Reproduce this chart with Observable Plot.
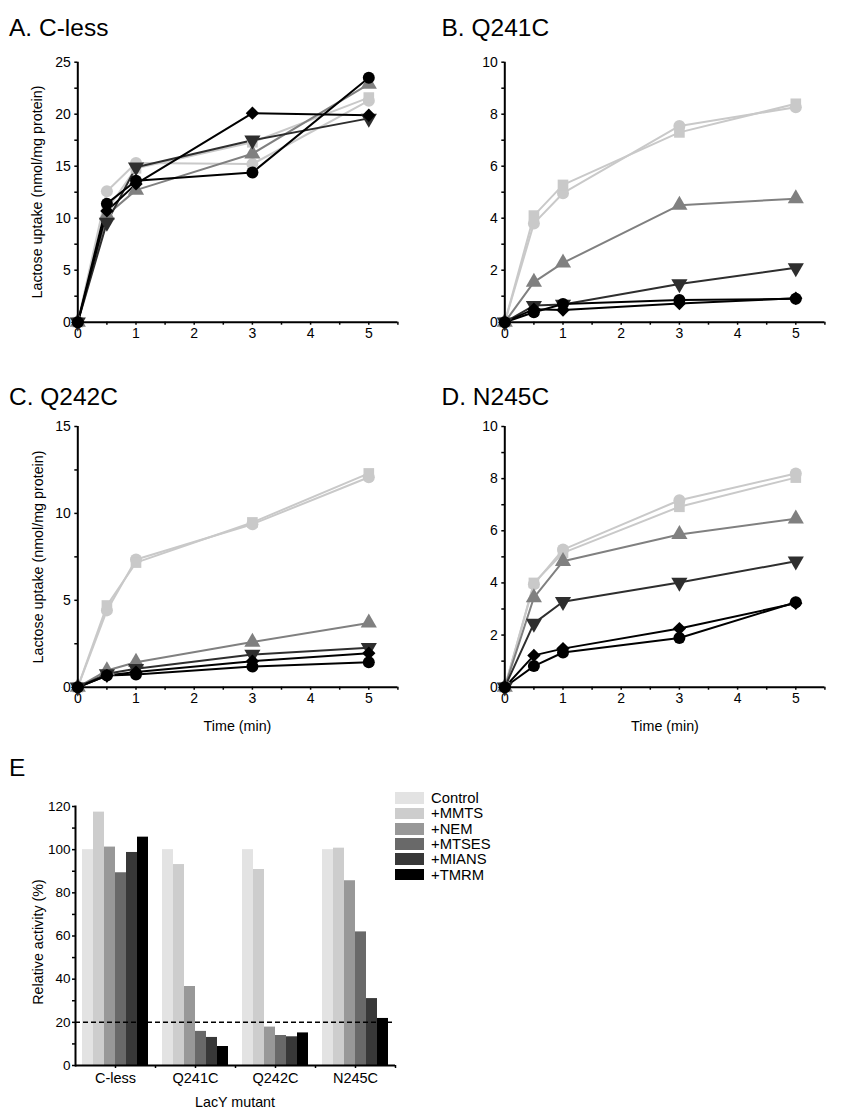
<!DOCTYPE html>
<html><head><meta charset="utf-8">
<script src="https://cdn.jsdelivr.net/npm/d3@7"></script>
<script src="https://cdn.jsdelivr.net/npm/@observablehq/plot@0.6"></script>
<style>
body{margin:0;background:#fff;}
#root{position:relative;width:854px;height:1116px;font-family:"Liberation Sans",Arial,sans-serif;color:#000;overflow:hidden;background:#fff;}
.abs{position:absolute;}
.title{font-size:24.5px;line-height:24px;white-space:nowrap;}
.ylab{transform:translate(-50%,-50%) rotate(-90deg);white-space:nowrap;font-size:14.3px;line-height:14px;}
.xlab{transform:translate(-50%,-50%);white-space:nowrap;font-size:14.3px;line-height:14px;}
.legrow{position:absolute;display:flex;align-items:center;height:15.3px;font-size:14.8px;}
.sw{width:29px;height:11.7px;margin-right:7px;}
svg{position:absolute;}
</style></head><body><div id="root"></div>
<script>
// ---------- data ----------
const times = [0, 0.5, 1, 3, 5];
const treatments = ["Control", "+MMTS", "+NEM", "+MTSES", "+MIANS", "+TMRM"];
const mutants = ["C-less", "Q241C", "Q242C", "N245C"];

// Panel A: C-less (nmol/mg protein)
const A_control = [0, 12.6, 15.3, 15.2, 21.3];
const A_mmts    = [0, 10.8, 14.8, 17.3, 21.6];
const A_nem     = [0, 10.3, 12.7, 16.2, 22.9];
const A_mtses   = [0, 9.6, 14.9, 17.5, 19.6];
const A_mians   = [0, 11.4, 13.6, 14.4, 23.5];
const A_tmrm    = [0, 10.7, 13.3, 20.1, 19.9];
// Panel B: Q241C
const B_control = [0, 3.8, 4.96, 7.55, 8.27];
const B_mmts    = [0, 4.1, 5.28, 7.3, 8.4];
const B_nem     = [0, 1.54, 2.28, 4.5, 4.75];
const B_mtses   = [0, 0.64, 0.68, 1.47, 2.09];
const B_mians   = [0, 0.38, 0.7, 0.85, 0.9];
const B_tmrm    = [0, 0.5, 0.47, 0.72, 0.92];
// Panel C: Q242C
const C_control = [0, 4.42, 7.35, 9.38, 12.08];
const C_mmts    = [0, 4.7, 7.17, 9.48, 12.3];
const C_nem     = [0, 0.96, 1.44, 2.6, 3.7];
const C_mtses   = [0, 0.77, 1.06, 1.88, 2.27];
const C_mians   = [0, 0.67, 0.73, 1.19, 1.44];
const C_tmrm    = [0, 0.67, 0.87, 1.5, 1.96];
// Panel D: N245C
const D_control = [0, 3.95, 5.28, 7.17, 8.2];
const D_mmts    = [0, 4.0, 5.15, 6.92, 8.04];
const D_nem     = [0, 3.44, 4.83, 5.86, 6.46];
const D_mtses   = [0, 2.45, 3.28, 4.02, 4.83];
const D_mians   = [0, 0.81, 1.33, 1.89, 3.26];
const D_tmrm    = [0, 1.22, 1.48, 2.25, 3.22];

// Panel E: relative activity (%) per mutant
const E_control = [100, 100, 100, 100];
const E_mmts    = [117.4, 93.1, 90.8, 100.7];
const E_nem     = [101.2, 36.6, 17.8, 85.6];
const E_mtses   = [89.3, 15.8, 13.9, 61.9];
const E_mians   = [98.7, 13.0, 13.3, 31.0];
const E_tmrm    = [105.8, 8.8, 15.1, 21.8];
const threshold = 20;

// tick labels
const xTicks = [0, 1, 2, 3, 4, 5];
const xMinor = [0.5, 1.5, 2.5, 3.5, 4.5, 5.5];
const yTicksA = [0, 5, 10, 15, 20, 25];
const yMinorA = [2.5, 7.5, 12.5, 17.5, 22.5];
const yTicks10 = [0, 2, 4, 6, 8, 10];
const yMinor10 = [1, 3, 5, 7, 9];
const yTicksC = [0, 5, 10, 15];
const yMinorC = [2.5, 7.5, 12.5];
const yTicksE = [0, 20, 40, 60, 80, 100, 120];
const yMinorE = [10, 30, 50, 70, 90, 110];

// ---------- styles ----------
const lineColors = ["#c9c9c9", "#c9c9c9", "#808080", "#2e2e2e", "#000000", "#000000"];
const symbols = ["circle", "square", "triangle", "triangle", "circle", "diamond2"];
const barColors = ["#e3e3e3", "#cdcdcd", "#989898", "#696969", "#383838", "#000000"];
const FONT = '"Liberation Sans", Arial, sans-serif';
const fmt = d => String(d);

const root = document.getElementById("root");
function addDiv(cls, text, left, top) {
  const d = document.createElement("div");
  d.className = "abs " + cls;
  d.textContent = text;
  d.style.left = left + "px";
  d.style.top = top + "px";
  root.appendChild(d);
  return d;
}

function longData(seriesArrays) {
  const out = [];
  seriesArrays.forEach((arr, i) => arr.forEach((v, j) => out.push({s: treatments[i], t: times[j], v})));
  return out;
}

function linePanel(seriesArrays, ymax, yMajor, yMinor, left, top, mt, mb) {
  const data = longData(seriesArrays);
  const chart = Plot.plot({
    width: 427, height: 350,
    marginLeft: 77.3, marginRight: 29.6, marginTop: mt, marginBottom: mb,
    x: {domain: [0, 5.5]},
    y: {domain: [0, ymax]},
    color: {domain: treatments, range: lineColors},
    symbol: {domain: treatments, range: symbols},
    style: {fontFamily: FONT, fontSize: "14px", color: "#000", background: "transparent", overflow: "visible"},
    marks: [
      Plot.axisY({ticks: yMajor, tickFormat: fmt, tickSize: 3, tickPadding: 4, label: null, strokeWidth: 1.5, fontSize: 14}),
      Plot.axisY({ticks: yMinor, tickSize: 3, text: null, label: null, strokeWidth: 1.5}),
      Plot.axisX({ticks: xTicks, tickFormat: fmt, tickSize: 3, tickPadding: 3, label: null, strokeWidth: 1.5, fontSize: 14}),
      Plot.axisX({ticks: xMinor, tickSize: 3, text: null, label: null, strokeWidth: 1.5}),
      Plot.line(data, {x: "t", y: "v", z: "s", stroke: "s", strokeWidth: 2}),
      Plot.dot(data, {x: "t", y: "v", fill: "s", symbol: "s", r: 6,
        rotate: d => d.s === "+MTSES" ? 180 : 0}),
      Plot.ruleX([0], {strokeWidth: 2}),
      Plot.ruleY([0], {strokeWidth: 2})
    ]
  });
  chart.style.left = left + "px";
  chart.style.top = top + "px";
  root.appendChild(chart);
}

// Panels A-D
linePanel([A_control, A_mmts, A_nem, A_mtses, A_mians, A_tmrm], 25, yTicksA, yMinorA, 0, 0, 61.7, 28.3);
linePanel([B_control, B_mmts, B_nem, B_mtses, B_mians, B_tmrm], 10, yTicks10, yMinor10, 427, 0, 61.7, 28.3);
linePanel([C_control, C_mmts, C_nem, C_mtses, C_mians, C_tmrm], 15, yTicksC, yMinorC, 0, 360, 66, 23.3);
linePanel([D_control, D_mmts, D_nem, D_mtses, D_mians, D_tmrm], 10, yTicks10, yMinor10, 427, 360, 66, 23.3);

addDiv("title", "A. C-less", 9, 16.4);
addDiv("title", "B. Q241C", 441.5, 16.4);
addDiv("title", "C. Q242C", 9, 384.7);
addDiv("title", "D. N245C", 441.5, 384.7);
addDiv("title", "E", 9, 755.7);

addDiv("ylab", "Lactose uptake (nmol/mg protein)", 37, 192);
addDiv("ylab", "Lactose uptake (nmol/mg protein)", 37.5, 557);
addDiv("xlab", "Time (min)", 237.5, 726);
addDiv("xlab", "Time (min)", 665, 726);

// Panel E: bars (faceted by mutant)
const eSeries = [E_control, E_mmts, E_nem, E_mtses, E_mians, E_tmrm];
const barData = [];
mutants.forEach((m, i) => eSeries.forEach((arr, k) => barData.push({m, t: treatments[k], v: arr[i]})));

const EW = 420, EH = 376, EML = 75, EMR = 25, EMT = 66, EMB = 51;
const bars = Plot.plot({
  width: EW, height: EH,
  marginLeft: EML, marginRight: EMR, marginTop: EMT, marginBottom: EMB,
  fx: {domain: mutants, paddingInner: 0.175, paddingOuter: 0.0875, axis: null},
  x: {domain: treatments, padding: 0, axis: null},
  y: {domain: [0, 120], axis: null},
  color: {domain: treatments, range: barColors},
  style: {fontFamily: FONT, background: "transparent", overflow: "visible"},
  marks: [
    Plot.barY(barData, {fx: "m", x: "t", y: "v", fill: "t"})
  ]
});
bars.style.left = "0px"; bars.style.top = "740px";
root.appendChild(bars);

const halfStep = (EW - EML - EMR) / mutants.length / 2;
const axes = Plot.plot({
  width: EW, height: EH,
  marginLeft: EML, marginRight: EMR, marginTop: EMT, marginBottom: EMB,
  x: {domain: mutants, paddingInner: 0.175, paddingOuter: 0.0875},
  y: {domain: [0, 120]},
  style: {fontFamily: FONT, fontSize: "14px", color: "#000", background: "transparent", overflow: "visible"},
  marks: [
    Plot.ruleY([threshold], {strokeDasharray: "5,3", strokeWidth: 1.5}),
    Plot.axisY({ticks: yTicksE, tickFormat: fmt, tickSize: 3, tickPadding: 2, label: null, strokeWidth: 1.5, fontSize: 13.5}),
    Plot.axisY({ticks: yMinorE, tickSize: 3, text: null, label: null, strokeWidth: 1.5}),
    Plot.axisX({tickSize: 3, tickPadding: 4, label: null, strokeWidth: 1.5, fontSize: 14.5}),
    Plot.axisX({tickSize: 3, text: null, label: null, strokeWidth: 1.5, dx: halfStep}),
    Plot.frame({anchor: "left", strokeWidth: 2}),
    Plot.ruleY([0], {strokeWidth: 2})
  ]
});
axes.style.left = "0px"; axes.style.top = "740px";
root.appendChild(axes);

addDiv("ylab", "Relative activity (%)", 37.5, 942);
addDiv("xlab", "LacY mutant", 235, 1101.5);

// legend
treatments.forEach((t, i) => {
  const row = document.createElement("div");
  row.className = "legrow";
  row.style.left = "395px";
  row.style.top = (790.5 + i * 15.3) + "px";
  const sw = document.createElement("div");
  sw.className = "sw";
  sw.style.background = barColors[i];
  const lab = document.createElement("span");
  lab.textContent = t;
  row.appendChild(sw); row.appendChild(lab);
  root.appendChild(row);
});
</script>
</body></html>
